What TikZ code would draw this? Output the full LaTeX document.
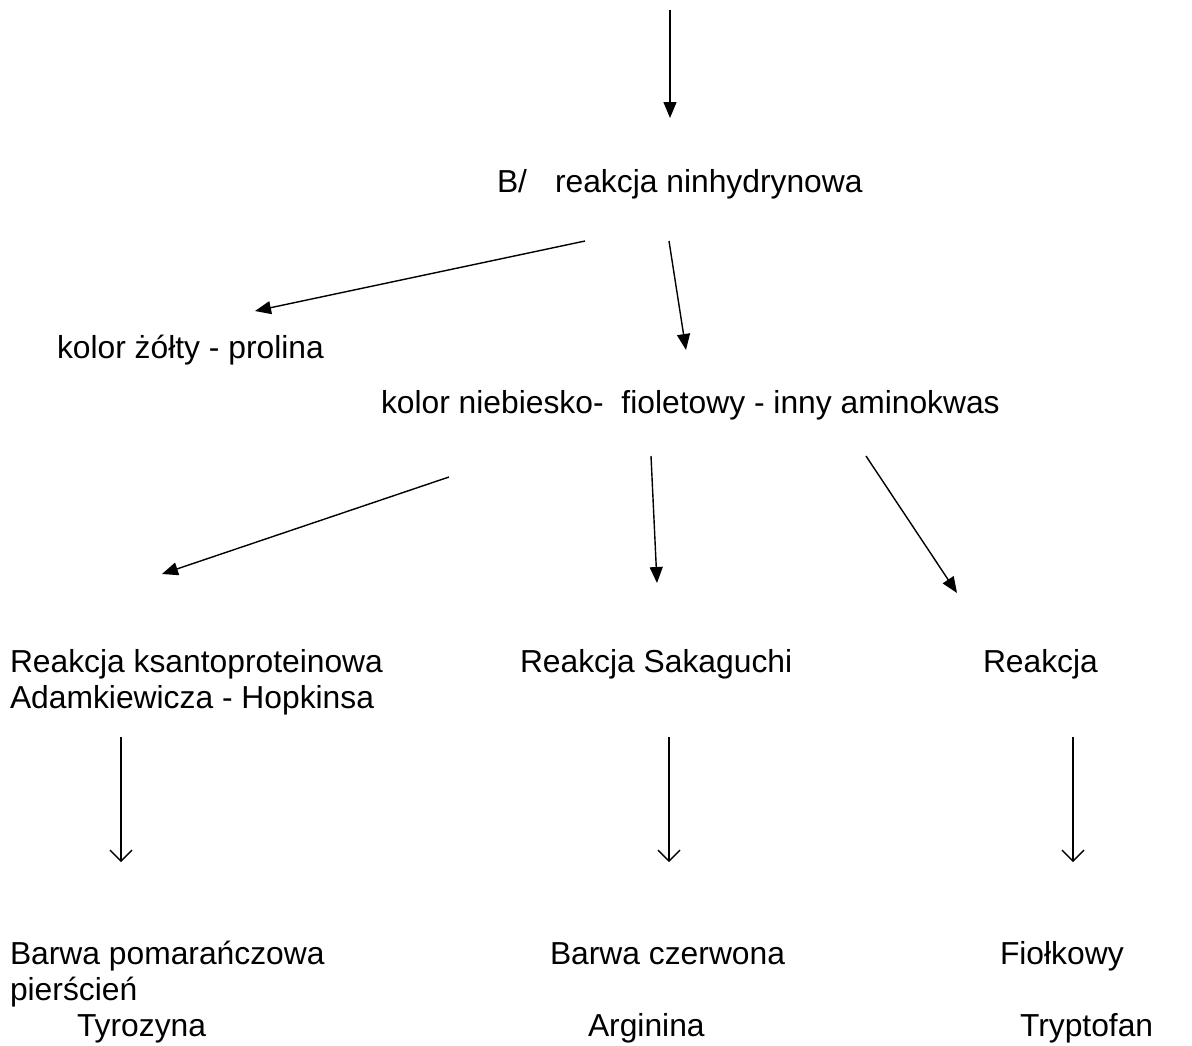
\documentclass[tikz,border=0pt]{standalone}
\usepackage{fontspec}
\setmainfont{Liberation Sans}
\usetikzlibrary{arrows.meta}
\begin{document}
\begin{tikzpicture}[x=1pt,y=-1pt,
  lbl/.style={anchor=base west,inner sep=0pt,outer sep=0pt,font=\fontsize{31.8}{36.6}\selectfont},
  farrow/.style={line width=1.4pt,-{Triangle[length=16pt,width=13pt]}},
  oarrow/.style={line width=1.4pt,-{Straight Barb[length=11pt,width=22pt,line width=1.4pt]}}]
\useasboundingbox[fill=white] (0,0) rectangle (1192,1045);

% text nodes
\node[lbl] (nin) at (497,192) {B/\hspace{28pt}reakcja ninhydrynowa};
\node[lbl] (zolty) at (57,358) {kolor żółty - prolina};
\node[lbl] (nieb) at (381,413) {kolor niebiesko-\hspace{9pt} fioletowy - inny aminokwas};
\node[lbl] (ksanto) at (10,672) {Reakcja ksantoproteinowa};
\node[lbl] (adam) at (10,708) {Adamkiewicza - Hopkinsa};
\node[lbl] (saka) at (520,672) {Reakcja Sakaguchi};
\node[lbl] (reak) at (983,672) {Reakcja};
\node[lbl] (pomar) at (10,964) {Barwa pomarańczowa};
\node[lbl] (pier) at (10,1000) {pierścień};
\node[lbl] (tyro) at (77,1036) {Tyrozyna};
\node[lbl] (czerw) at (550,964) {Barwa czerwona};
\node[lbl] (argi) at (588,1036) {Arginina};
\node[lbl] (fiol) at (1000,964) {Fiołkowy};
\node[lbl] (tryp) at (1020,1036) {Tryptofan};

% connector end points
\coordinate (top) at (670,10);
\coordinate (ninIn) at (670,118);
\coordinate (ninL) at (585,241);
\coordinate (zolIn) at (255,311);
\coordinate (ninR) at (669,241);
\coordinate (niebIn) at (686,350);
\coordinate (niebL) at (449,477);
\coordinate (ksIn) at (162,574);
\coordinate (niebM) at (651,456);
\coordinate (sakIn) at (657,583);
\coordinate (niebR) at (866,456);
\coordinate (reIn) at (957,593);
\coordinate (ksOut) at (121,737);
\coordinate (pomIn) at (121,862);
\coordinate (sakOut) at (669,737);
\coordinate (czIn) at (669,862);
\coordinate (reOut) at (1073,737);
\coordinate (fiIn) at (1073,862);

\draw[farrow] (top) -- (ninIn);
\draw[farrow] (ninL) -- (zolIn);
\draw[farrow] (ninR) -- (niebIn);
\draw[farrow] (niebL) -- (ksIn);
\draw[farrow] (niebM) -- (sakIn);
\draw[farrow] (niebR) -- (reIn);
\draw[oarrow] (ksOut) -- (pomIn);
\draw[oarrow] (sakOut) -- (czIn);
\draw[oarrow] (reOut) -- (fiIn);
\end{tikzpicture}
\end{document}
